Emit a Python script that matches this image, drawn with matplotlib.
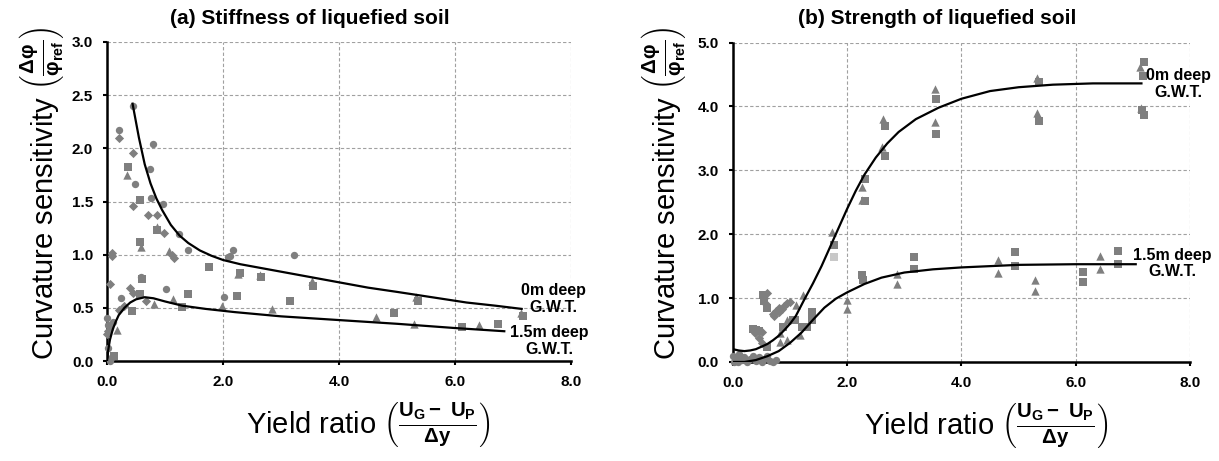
import matplotlib
matplotlib.use('Agg')
import matplotlib.pyplot as plt

plt.rcParams['font.family'] = ['Liberation Sans', 'DejaVu Sans']
plt.rcParams['mathtext.fontset'] = 'custom'
plt.rcParams['mathtext.rm'] = 'Liberation Sans:bold'
plt.rcParams['mathtext.it'] = 'Liberation Sans:bold'
plt.rcParams['mathtext.bf'] = 'Liberation Sans:bold'

# ---- (a) stiffness of liquefied soil ----
a_dia_x = [0.21, 0.44, 0.45, 0.70, 0.87, 0.99, 1.12, 1.16, 0.09, 0.09, 0.05, 0.40, 0.44, 0.68, 0.20, 0.29, 0.02, 0.00]
a_dia_y = [2.10, 1.96, 1.46, 1.37, 1.37, 1.20, 0.995, 0.966, 1.02, 0.99, 0.72, 0.69, 0.64, 0.56, 0.48, 0.52, 0.28, 0.25]
a_cir_x = [0.45, 0.21, 0.80, 0.74, 0.49, 0.76, 0.96, 1.24, 1.39, 2.09, 2.12, 2.17, 3.23, 0.58, 1.01, 0.24, 2.01,
           0.00, 0.01, 0.05, 0.11, 0.01, 0.08, 0.05]
a_cir_y = [2.40, 2.17, 2.04, 1.81, 1.66, 1.53, 1.48, 1.19, 1.04, 0.98, 0.99, 1.04, 1.00, 0.79, 0.68, 0.59, 0.60,
           0.40, 0.34, 0.31, 0.37, 0.12, 0.04, 0.00]
a_sq_x = [0.36, 0.57, 0.86, 0.57, 1.75, 0.61, 1.39, 0.57, 2.24, 1.30, 0.43, 0.12, 2.29, 2.65, 3.55, 3.16, 4.94,
          5.36, 6.12, 6.74, 7.18]
a_sq_y = [1.82, 1.51, 1.23, 1.12, 0.88, 0.77, 0.63, 0.63, 0.61, 0.505, 0.47, 0.05, 0.83, 0.79, 0.71, 0.56, 0.45,
          0.56, 0.32, 0.35, 0.42]
a_tri_x = [0.34, 0.86, 0.58, 1.06, 0.81, 1.14, 1.98, 0.18, 2.26, 2.63, 3.53, 2.85, 4.63, 5.29, 5.32, 6.41, 7.13]
a_tri_y = [1.75, 1.26, 1.07, 1.03, 0.54, 0.58, 0.52, 0.29, 0.82, 0.81, 0.75, 0.49, 0.41, 0.35, 0.60, 0.34, 0.45]

a_fit0_x = [0.44, 0.55, 0.65, 0.75, 0.85, 0.95, 1.10, 1.25, 1.40, 1.60, 1.80, 2.00, 2.30, 2.70, 3.20, 3.60,
            4.00, 4.50, 5.00, 5.60, 6.20, 6.70, 7.15]
a_fit0_y = [2.42, 2.10, 1.85, 1.67, 1.53, 1.42, 1.28, 1.18, 1.11, 1.04, 0.99, 0.95, 0.91, 0.87, 0.82, 0.78,
            0.74, 0.69, 0.65, 0.60, 0.55, 0.52, 0.49]
a_fit15_x = [0.00, 0.02, 0.05, 0.10, 0.15, 0.20, 0.30, 0.40, 0.50, 0.65, 0.80, 1.00, 1.30, 1.70, 2.20, 3.00,
             4.00, 5.00, 6.00, 6.85]
a_fit15_y = [0.00, 0.10, 0.20, 0.30, 0.37, 0.43, 0.50, 0.55, 0.58, 0.60, 0.59, 0.56, 0.52, 0.49, 0.46, 0.42,
             0.385, 0.35, 0.31, 0.28]

# ---- (b) strength of liquefied soil ----
b_tri_x = [1.73, 1.99, 1.99, 2.25, 2.25, 2.61, 2.62, 2.87, 2.87, 3.53, 3.53, 4.64, 4.64, 5.32, 5.32, 5.29, 5.29,
           6.42, 6.42, 7.13, 7.15, 0.82, 0.82, 0.94, 1.11, 1.17, 1.23, 0.95]
b_tri_y = [2.04, 0.97, 0.83, 2.74, 2.53, 3.36, 3.81, 1.37, 1.22, 4.28, 3.76, 1.59, 1.40, 4.45, 3.90, 1.28, 1.11,
           1.66, 1.45, 4.61, 3.98, 0.45, 0.32, 0.66, 0.89, 0.42, 1.05, 0.35]
b_sq_x = [1.76, 2.25, 2.28, 2.31, 2.31, 2.66, 2.66, 3.16, 3.16, 3.55, 3.55, 4.94, 4.94, 5.36, 5.36, 6.12, 6.12,
          6.74, 6.74, 7.19, 7.17, 7.16, 7.20, 0.59, 0.88, 1.05, 1.20, 1.29, 1.38, 1.39, 1.09, 0.35, 0.40, 0.45,
          0.52, 0.55, 0.60]
b_sq_y = [1.83, 1.36, 1.29, 2.86, 2.52, 3.69, 3.22, 1.64, 1.46, 4.11, 3.57, 1.72, 1.50, 4.38, 3.77, 1.41, 1.25,
          1.74, 1.53, 4.69, 4.48, 3.94, 3.86, 0.24, 0.55, 0.66, 0.55, 0.55, 0.66, 0.79, 0.66, 0.52, 0.50, 0.48,
          1.05, 0.95, 0.85]
b_light_x = [1.76]
b_light_y = [1.64]
b_dia_x = [0.55, 0.57, 0.60, 0.70, 0.75, 0.80, 0.85, 0.90, 0.95, 1.00, 0.72, 0.80, 0.50, 0.38, 0.45, 0.50]
b_dia_y = [1.00, 0.90, 1.08, 0.75, 0.80, 0.85, 0.83, 0.88, 0.92, 0.94, 0.72, 0.78, 0.47, 0.45, 0.38, 0.30]
b_cir_x = [0.00, 0.05, 0.10, 0.15, 0.20, 0.25, 0.30, 0.35, 0.40, 0.45, 0.50, 0.55, 0.60, 0.65, 0.70, 0.75, 0.02, 0.08]
b_cir_y = [0.10, 0.05, 0.12, 0.03, 0.08, 0.00, 0.05, 0.10, 0.02, 0.08, 0.00, 0.05, 0.10, 0.02, 0.00, 0.03, 0.00, 0.00]

b_fit0_x = [0.00, 0.10, 0.20, 0.30, 0.40, 0.50, 0.60, 0.70, 0.80, 0.90, 1.00, 1.10, 1.25, 1.40, 1.55, 1.70,
            1.85, 2.00, 2.15, 2.30, 2.50, 2.70, 2.90, 3.20, 3.60, 4.00, 4.50, 5.00, 5.60, 6.30, 7.15]
b_fit0_y = [0.20, 0.18, 0.17, 0.18, 0.20, 0.24, 0.28, 0.34, 0.41, 0.50, 0.60, 0.72, 0.98, 1.23, 1.50, 1.80,
            2.10, 2.40, 2.68, 2.93, 3.20, 3.42, 3.60, 3.80, 3.98, 4.12, 4.24, 4.30, 4.34, 4.36, 4.36]
b_fit15_x = [0.00, 0.20, 0.40, 0.60, 0.80, 1.00, 1.20, 1.40, 1.60, 1.80, 2.00, 2.30, 2.60, 3.00, 3.50, 4.00,
             5.00, 6.00, 7.05]
b_fit15_y = [0.00, 0.00, 0.03, 0.09, 0.17, 0.30, 0.46, 0.66, 0.85, 0.99, 1.09, 1.22, 1.32, 1.40, 1.45, 1.48,
             1.52, 1.53, 1.53]

gray = '#7f7f7f'
ylab = r'Curvature sensitivity $\left(\frac{\Delta φ}{φ_{ref}}\right)$'
xlab = r'Yield ratio $\left(\frac{U_G -\ U_P}{\Delta y}\right)$'

fig = plt.figure(figsize=(12.19, 4.61), dpi=100)
axA = fig.add_axes([0.0878, 0.2169, 0.3806, 0.692])
axB = fig.add_axes([0.6013, 0.2148, 0.3749, 0.693])


def style(ax, ymax, ystep):
    ax.set_xlim(0, 8)
    ax.set_ylim(0, ymax)
    ax.set_xticks([0, 2, 4, 6, 8])
    ax.set_yticks([i * ystep for i in range(int(round(ymax / ystep)) + 1)])
    ax.xaxis.set_major_formatter(matplotlib.ticker.FormatStrFormatter('%.1f'))
    ax.yaxis.set_major_formatter(matplotlib.ticker.FormatStrFormatter('%.1f'))
    ax.grid(True, color='#a0a0a0', linestyle=(0, (3, 2)), linewidth=0.8)
    ax.set_axisbelow(True)
    for s in ['top', 'right']:
        ax.spines[s].set_visible(False)
    for s in ['left', 'bottom']:
        ax.spines[s].set_linewidth(1.8)
    ax.tick_params(direction='out', length=3, width=1.5, labelsize=11, pad=7)
    for lab in ax.get_xticklabels() + ax.get_yticklabels():
        lab.set_fontweight('bold')


def points(ax, x, y, m, s, c=gray):
    ax.scatter(x, y, marker=m, s=s, color=c, linewidths=0, zorder=3, clip_on=False)


style(axA, 3.0, 0.5)
points(axA, a_dia_x, a_dia_y, 'D', 22)
points(axA, a_cir_x, a_cir_y, 'o', 28)
points(axA, a_sq_x, a_sq_y, 's', 30)
points(axA, a_tri_x, a_tri_y, '^', 36)
axA.plot(a_fit0_x, a_fit0_y, color='black', lw=1.6, zorder=4)
axA.plot(a_fit15_x, a_fit15_y, color='black', lw=1.6, zorder=4)
axA.text(7.69, 0.58, '0m deep\nG.W.T.', ha='center', va='center', fontsize=11.5, fontweight='bold',
         linespacing=1.15, zorder=5)
axA.text(7.62, 0.19, '1.5m deep\nG.W.T.', ha='center', va='center', fontsize=11.5, fontweight='bold',
         linespacing=1.15, zorder=5)
axA.text(0.4375, 1.075, '(a) Stiffness of liquefied soil', transform=axA.transAxes, ha='center',
         va='center', fontsize=15, fontweight='bold')
axA.text(-0.14, 0.527, ylab, transform=axA.transAxes, rotation=90, ha='center', va='center', fontsize=21)
axA.text(0.5625, -0.20, xlab, transform=axA.transAxes, ha='center', va='center', fontsize=21)

style(axB, 5.0, 1.0)
points(axB, b_cir_x, b_cir_y, 'o', 28)
points(axB, b_dia_x, b_dia_y, 'D', 22)
points(axB, b_sq_x, b_sq_y, 's', 30)
points(axB, b_tri_x, b_tri_y, '^', 36)
points(axB, b_light_x, b_light_y, 's', 30, c='#c8c8c8')
axB.plot(b_fit0_x, b_fit0_y, color='black', lw=1.6, zorder=4)
axB.plot(b_fit15_x, b_fit15_y, color='black', lw=1.6, zorder=4)
axB.text(7.79, 4.35, '0m deep\nG.W.T.', ha='center', va='center', fontsize=11.5, fontweight='bold',
         linespacing=1.15, zorder=5)
axB.text(7.69, 1.54, '1.5m deep\nG.W.T.', ha='center', va='center', fontsize=11.5, fontweight='bold',
         linespacing=1.15, zorder=5)
axB.text(0.446, 1.075, '(b) Strength of liquefied soil', transform=axB.transAxes, ha='center',
         va='center', fontsize=15, fontweight='bold')
axB.text(-0.149, 0.527, ylab, transform=axB.transAxes, rotation=90, ha='center', va='center', fontsize=21)
axB.text(0.554, -0.20, xlab, transform=axB.transAxes, ha='center', va='center', fontsize=21)

fig.savefig('out.png', dpi=100)
